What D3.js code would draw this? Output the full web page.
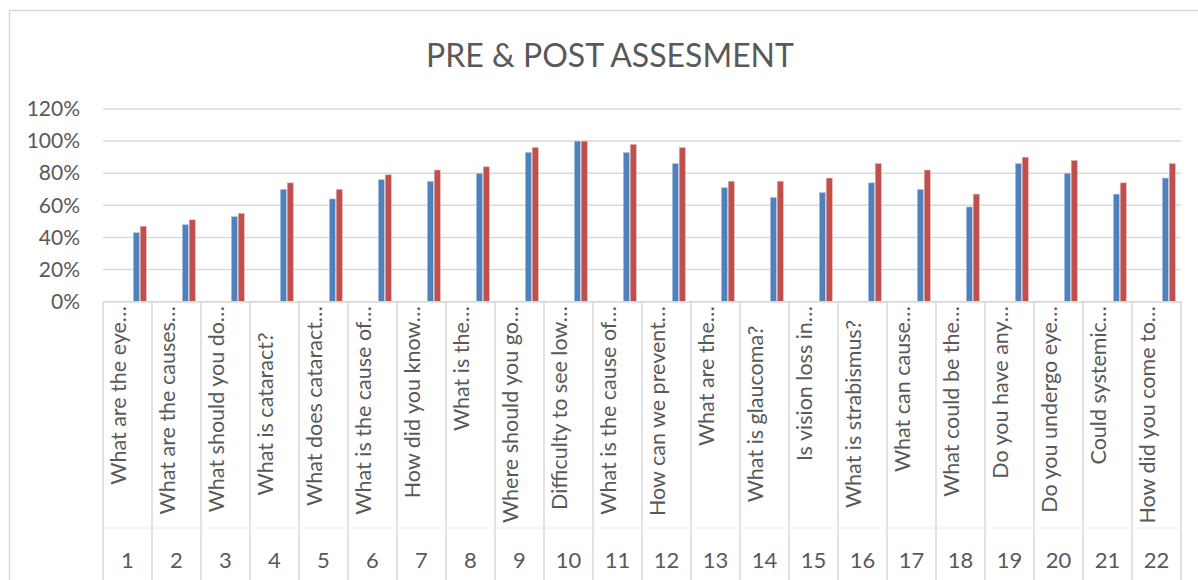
<!DOCTYPE html>
<html>
<head>
<meta charset="utf-8">
<script src="https://cdn.jsdelivr.net/npm/d3@7"></script>
<style>
  body { margin: 0; background: #fff; }
  text { font-family: Lato, "Open Sans", sans-serif; fill: #595959; }
</style>
</head>
<body>
<div id="chart"></div>
<script>
// chart values
var questions = [
  "What are the eye…", "What are the causes…", "What should you do…", "What is cataract?",
  "What does cataract…", "What is the cause of…", "How did you know…", "What is the…",
  "Where should you go…", "Difficulty to see low…", "What is the cause of…", "How can we prevent…",
  "What are the…", "What is glaucoma?", "Is vision loss in…", "What is strabismus?",
  "What can cause…", "What could be the…", "Do you have any…", "Do you undergo eye…",
  "Could systemic…", "How did you come to…"
];
var numbers = ["1","2","3","4","5","6","7","8","9","10","11","12","13","14","15","16","17","18","19","20","21","22"];
var pre  = [0.43,0.48,0.53,0.70,0.64,0.76,0.75,0.80,0.93,1.00,0.93,0.86,0.71,0.65,0.68,0.74,0.70,0.59,0.86,0.80,0.67,0.77];
var post = [0.47,0.51,0.55,0.74,0.70,0.79,0.82,0.84,0.96,1.00,0.98,0.96,0.75,0.75,0.77,0.86,0.82,0.67,0.90,0.88,0.74,0.86];
var yTicks = [0, 0.2, 0.4, 0.6, 0.8, 1.0, 1.2];

var width = 1198;
var height = 580;

var svg = d3.select("#chart")
    .append("svg")
    .attr("width", width)
    .attr("height", height);

// outer chart frame
svg.append("rect")
    .attr("x", 9.5).attr("y", 10.5)
    .attr("width", 1200).attr("height", 600)
    .attr("fill", "none")
    .attr("stroke", "#d9d9d9")
    .attr("stroke-width", 1.5);

// title
svg.append("text")
    .attr("x", 610).attr("y", 67)
    .attr("text-anchor", "middle")
    .style("font-size", "32px")
    .text("PRE & POST ASSESMENT");

var x = d3.scaleBand()
    .domain(numbers)
    .range([103, 1181]);

var bw = x.bandwidth();
var xInner = d3.scaleBand()
    .domain(["pre", "post"])
    .range([bw * 0.618, bw * 0.884])
    .paddingInner(0.12);

var y = d3.scaleLinear()
    .domain([0, 1.2])
    .range([301.7, 109]);

// gridlines
svg.append("g")
    .selectAll("line")
    .data(yTicks)
    .enter()
    .append("line")
    .attr("x1", 103).attr("x2", 1181)
    .attr("y1", d => y(d)).attr("y2", d => y(d))
    .attr("stroke", "#d9d9d9")
    .attr("stroke-width", 1.5);

// y axis labels
var yAxis = d3.axisLeft(y)
    .tickValues(yTicks)
    .tickFormat(d3.format(".0%"))
    .tickSize(0)
    .tickPadding(0);

svg.append("g")
    .attr("transform", "translate(80,0)")
    .call(yAxis)
    .call(g => g.select(".domain").remove())
    .selectAll("text")
    .style("font-size", "21px")
    .attr("fill", "#595959");

// bars
var groups = svg.append("g")
    .selectAll("g")
    .data(numbers)
    .enter()
    .append("g")
    .attr("transform", d => "translate(" + x(d) + ",0)");

groups.append("rect")
    .attr("x", xInner("pre"))
    .attr("width", xInner.bandwidth())
    .attr("y", (d, i) => y(pre[i]))
    .attr("height", (d, i) => y(0) - y(pre[i]))
    .attr("fill", "#4f81bd")
    .attr("stroke", "#b9cde5")
    .attr("stroke-width", 0.6);

groups.append("rect")
    .attr("x", xInner("post"))
    .attr("width", xInner.bandwidth())
    .attr("y", (d, i) => y(post[i]))
    .attr("height", (d, i) => y(0) - y(post[i]))
    .attr("fill", "#c0504d")
    .attr("stroke", "#e6b9b8")
    .attr("stroke-width", 0.6);

// category box (multi-level axis)
var box = svg.append("g");
box.selectAll("line.div")
    .data(numbers.concat(["end"]))
    .enter()
    .append("line")
    .attr("class", "div")
    .attr("x1", (d, i) => i < numbers.length ? x(d) : x.range()[1])
    .attr("x2", (d, i) => i < numbers.length ? x(d) : x.range()[1])
    .attr("y1", 301.7).attr("y2", 585)
    .attr("stroke", "#d9d9d9")
    .attr("stroke-width", 1.5);

box.append("line")
    .attr("x1", 103).attr("x2", 1181)
    .attr("y1", 301.7).attr("y2", 301.7)
    .attr("stroke", "#d9d9d9")
    .attr("stroke-width", 1.5);

box.append("line")
    .attr("x1", 103).attr("x2", 1181)
    .attr("y1", 528).attr("y2", 528)
    .attr("stroke", "#ececec")
    .attr("stroke-width", 1);

// question labels, rotated
box.selectAll("text.q")
    .data(questions)
    .enter()
    .append("text")
    .attr("class", "q")
    .attr("transform", function(d, i) {
        var cx = x(numbers[i]) + bw / 2 - 1.5;
        var truncated = d.slice(-1) === "…";
        var cy = truncated ? 306 : 414;
        return "translate(" + cx + "," + cy + ") rotate(-90)";
    })
    .attr("text-anchor", d => d.slice(-1) === "…" ? "end" : "middle")
    .style("font-size", "21.5px")
    .text(d => d);

// number labels
box.selectAll("text.n")
    .data(numbers)
    .enter()
    .append("text")
    .attr("class", "n")
    .attr("x", d => x(d) + bw / 2)
    .attr("y", 568)
    .attr("text-anchor", "middle")
    .style("font-size", "22px")
    .text(d => d);
</script>
</body>
</html>
